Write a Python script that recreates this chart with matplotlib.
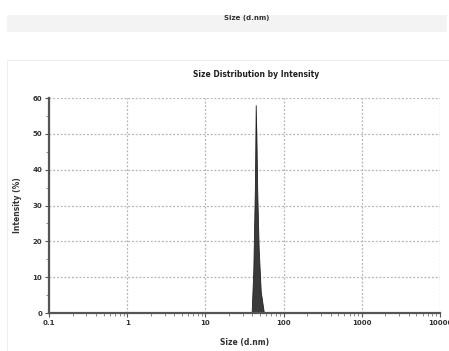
import matplotlib
matplotlib.use('Agg')
import matplotlib.pyplot as plt
from matplotlib.patches import Rectangle
from matplotlib.ticker import LogLocator, NullFormatter, FixedLocator

# size distribution
size_nm = [39, 41, 43, 44, 45, 46, 48, 51, 56]
intensity = [0, 12, 36, 58, 48, 34, 18, 6, 0]

xticks = [0.1, 1, 10, 100, 1000, 10000]
xticklabels = ['0.1', '1', '10', '100', '1000', '10000']
yticks = [0, 10, 20, 30, 40, 50, 60]

fig = plt.figure(figsize=(4.49, 3.51), dpi=100)

# top strip left over from the cropped panel above
fig.patches.append(Rectangle((7 / 449, 1 - 32 / 351), 440 / 449, 17 / 351,
                             transform=fig.transFigure, facecolor='#f3f3f3',
                             edgecolor='none'))
fig.text(247 / 449, 1 - 18 / 351, 'Size (d.nm)', ha='center', va='center',
         fontsize=5, fontweight='bold', color='#333333')

# light frame of the panel
fig.patches.append(Rectangle((7 / 449, -0.05), 445 / 449, 1 - 60 / 351 + 0.05,
                             transform=fig.transFigure, facecolor='none',
                             edgecolor='#eeeeee', linewidth=0.8))

ax = fig.add_axes([49 / 449, 1 - 313 / 351, 391 / 449, 215 / 351])
ax.fill_between(size_nm, intensity, 0, color='#3a3a3a', linewidth=0.6,
                edgecolor='#222222')

ax.set_xscale('log')
ax.set_xlim(0.1, 10000)
ax.set_ylim(0, 60)
ax.xaxis.set_major_locator(FixedLocator(xticks))
ax.set_xticklabels(xticklabels)
ax.xaxis.set_minor_locator(LogLocator(base=10, subs=range(2, 10), numticks=20))
ax.xaxis.set_minor_formatter(NullFormatter())
ax.set_yticks(yticks)
ax.yaxis.set_minor_locator(FixedLocator([5, 15, 25, 35, 45, 55]))

ax.grid(True, which='major', color='#b5b5b5', linestyle=(0, (1.5, 1.5)),
        linewidth=0.9)
ax.set_axisbelow(True)

for s in ['top', 'right']:
    ax.spines[s].set_visible(False)
for s in ['left', 'bottom']:
    ax.spines[s].set_color('#555555')
    ax.spines[s].set_linewidth(1.6)

ax.tick_params(which='major', length=3, width=0.8, color='#555555',
               labelsize=5, direction='out', pad=2)
ax.tick_params(which='minor', length=2, width=0.6, color='#777777', direction='out')
for lab in ax.get_xticklabels() + ax.get_yticklabels():
    lab.set_fontweight('bold')
    lab.set_color('#333333')

ax.set_title('Size Distribution by Intensity', fontsize=5.5, fontweight='bold',
             color='#222222', pad=15, x=0.53)
ax.set_xlabel('Size (d.nm)', fontsize=5.5, fontweight='bold', color='#333333',
              labelpad=9)
ax.set_ylabel('Intensity (%)', fontsize=5.5, fontweight='bold', color='#333333',
              labelpad=7)

fig.savefig('out.png', dpi=100)
